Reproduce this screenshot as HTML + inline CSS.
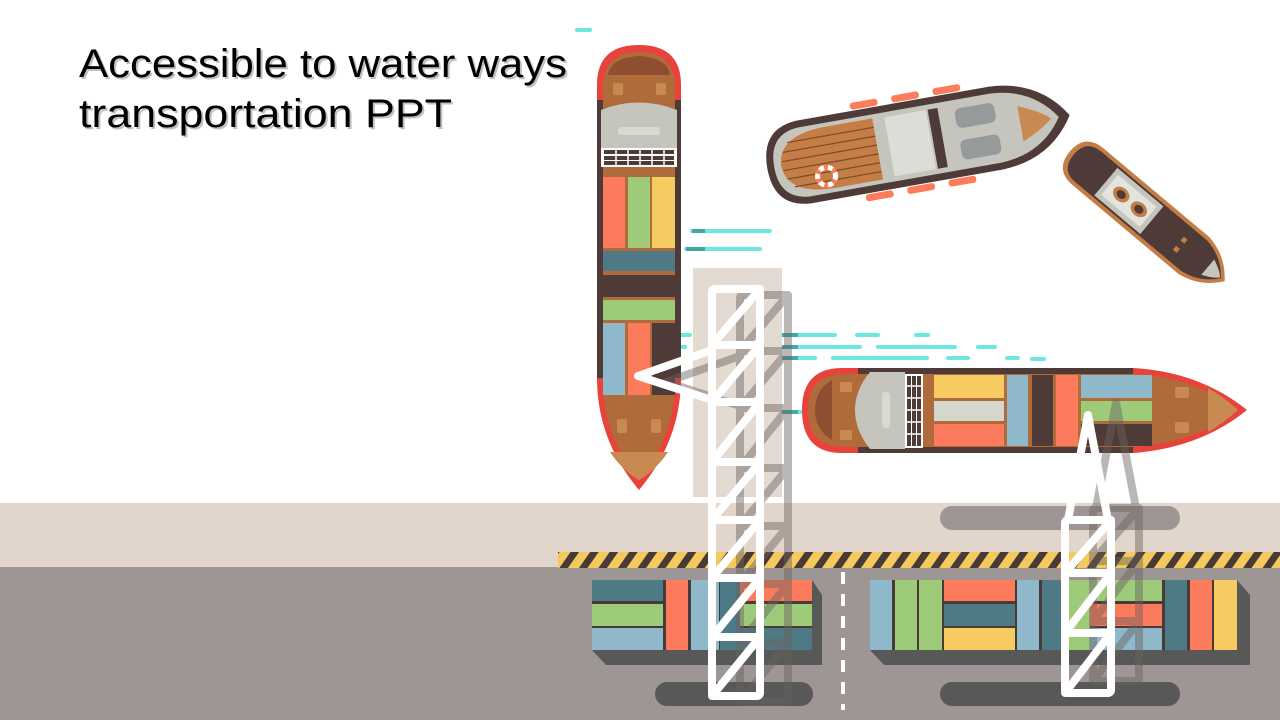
<!DOCTYPE html>
<html><head><meta charset="utf-8"><style>
html,body{margin:0;padding:0;background:#fff;}
svg{display:block;}
</style></head><body>
<svg width="1280" height="720" viewBox="0 0 1280 720" xmlns="http://www.w3.org/2000/svg">
<defs>
<pattern id="haz" width="16" height="16" patternUnits="userSpaceOnUse" patternTransform="rotate(35)">
<rect width="16" height="16" fill="#f4c95d"/><rect width="7" height="16" fill="#4a3a36"/>
</pattern>
<g id="craneL" fill="none" stroke-width="8" stroke-linejoin="round" stroke-linecap="round">
<rect x="712" y="289" width="48" height="407" rx="3"/>
<path d="M712 345H760M712 402H760M712 462H760M712 520H760M712 578H760M712 637H760"/>
<path d="M712 345L760 289M712 402L760 345M712 462L760 402M712 520L760 462M712 578L760 520M712 637L760 578M712 696L760 637"/>
<path d="M712 350L638 376L712 400"/>
</g>
<g id="craneR" fill="none" stroke-width="8" stroke-linejoin="round" stroke-linecap="round">
<rect x="1065" y="520" width="46" height="173" rx="3"/>
<path d="M1065 573H1111M1065 633H1111"/>
<path d="M1065 573L1111 520M1065 633L1111 573M1065 693L1111 633"/>
<path d="M1068 520L1088 415L1108 520"/>
</g>
</defs>

<rect x="0" y="503" width="1280" height="66" fill="#e2d6cc"/>
<rect x="0" y="567" width="1280" height="153" fill="#9e9694"/>
<rect x="558" y="552" width="722" height="16" fill="url(#haz)"/>
<path d="M843 572V710" stroke="#fff" stroke-width="4" stroke-dasharray="12 10"/>

<rect x="940" y="506" width="240" height="24" rx="12" fill="#9e9694"/>
<rect x="655" y="682" width="158" height="24" rx="12" fill="#585858"/>
<rect x="940" y="682" width="240" height="24" rx="12" fill="#585858"/>

<path d="M592 650L606 665H822V595L812 580V650Z" fill="#585858"/>
<rect x="592" y="580" width="220" height="70" fill="#4a3a36"/>
<rect x="592" y="580" width="71" height="21" fill="#4e7a86"/>
<rect x="592" y="604" width="71" height="22" fill="#9ecb7a"/>
<rect x="592" y="628" width="71" height="22" fill="#8fb9cb"/>
<rect x="666" y="580" width="22" height="70" fill="#fd7b5d"/>
<rect x="691" y="580" width="28" height="70" fill="#8fb9cb"/>
<rect x="720" y="580" width="20" height="70" fill="#4e7a86"/>
<rect x="740" y="580" width="72" height="21" fill="#fd7b5d"/>
<rect x="740" y="604" width="72" height="22" fill="#9ecb7a"/>
<rect x="740" y="628" width="72" height="22" fill="#4e7a86"/>

<path d="M870 650L884 665H1250V595L1237 580V650Z" fill="#585858"/>
<rect x="870" y="580" width="367" height="70" fill="#4a3a36"/>
<rect x="870" y="580" width="22" height="70" fill="#8fb9cb"/>
<rect x="895" y="580" width="22" height="70" fill="#9ecb7a"/>
<rect x="919" y="580" width="23" height="70" fill="#9ecb7a"/>
<rect x="944" y="580" width="71" height="21" fill="#fd7b5d"/>
<rect x="944" y="604" width="71" height="22" fill="#4e7a86"/>
<rect x="944" y="628" width="71" height="22" fill="#f6cb62"/>
<rect x="1017" y="580" width="22" height="70" fill="#8fb9cb"/>
<rect x="1042" y="580" width="23" height="70" fill="#4e7a86"/>
<rect x="1067" y="580" width="23" height="70" fill="#9ecb7a"/>
<rect x="1090" y="580" width="72" height="21" fill="#9ecb7a"/>
<rect x="1090" y="604" width="72" height="22" fill="#fd7b5d"/>
<rect x="1090" y="628" width="72" height="22" fill="#8fb9cb"/>
<rect x="1165" y="580" width="22" height="70" fill="#4e7a86"/>
<rect x="1190" y="580" width="22" height="70" fill="#fd7b5d"/>
<rect x="1214" y="580" width="23" height="70" fill="#f6cb62"/>

<g stroke-width="4" stroke-linecap="round" stroke="#6de8e0">
<path d="M577 30H590"/>
<path d="M692 231H770M686 249H760"/>
<path d="M782 335H835M857 335H878M916 335H928"/>
<path d="M782 347H860M878 347H955M978 347H995"/>
<path d="M782 358H815M833 358H927M948 358H968M1007 358H1018M1032 359H1044"/>
<path d="M782 412H852"/>
<path d="M645 335H690M673 347H685"/>
</g>
<g stroke-width="4" stroke="#3fa9a5"><path d="M692 231H705M686 249H705M782 335H798M782 347H798M782 358H798M782 412H798"/></g>

<path d="M597 85Q597 45 639 45Q681 45 681 85V378Q681 440 639 490Q597 440 597 378Z" fill="#e8433a"/>
<rect x="597" y="100" width="84" height="278" fill="#4e3b37"/>
<path d="M603 88Q603 52 639 52Q675 52 675 88V380Q675 436 639 480Q603 436 603 380Z" fill="#b06b3a"/>
<path d="M608 75Q610 58 639 56Q668 58 670 75Z" fill="#8e4f30"/>
<rect x="613" y="83" width="10" height="12" rx="2" fill="#c98a52"/><rect x="656" y="83" width="10" height="12" rx="2" fill="#c98a52"/>
<path d="M601 110Q639 95 677 110V148H601Z" fill="#c5c5bd"/>
<rect x="618" y="127" width="42" height="8" rx="3" fill="#d9d9cf"/>
<rect x="601" y="148" width="76" height="19" fill="#fff"/>
<g fill="#4e3b37"><rect x="604" y="150" width="70" height="4"/><rect x="604" y="156" width="70" height="4"/><rect x="604" y="161" width="70" height="4"/></g>
<g stroke="#fff" stroke-width="1.5"><path d="M616 150V166M628 150V166M640 150V166M652 150V166M664 150V166"/></g>
<rect x="603" y="177" width="22" height="71" fill="#fd7b5d"/>
<rect x="628" y="177" width="22" height="71" fill="#9ecb7a"/>
<rect x="652" y="177" width="23" height="71" fill="#f6cb62"/>
<rect x="603" y="251" width="72" height="20" fill="#4e7a86"/>
<rect x="603" y="275" width="72" height="22" fill="#4e3b37"/>
<rect x="603" y="300" width="72" height="20" fill="#9ecb7a"/>
<rect x="603" y="323" width="22" height="72" fill="#8fb9cb"/>
<rect x="628" y="323" width="22" height="72" fill="#fd7b5d"/>
<rect x="652" y="323" width="23" height="72" fill="#4e3b37"/>
<rect x="617" y="419" width="10" height="14" rx="2" fill="#c98a52"/><rect x="651" y="419" width="10" height="14" rx="2" fill="#c98a52"/>
<path d="M610 452H668Q656 470 639 480Q622 470 610 452Z" fill="#c98a52"/>

<rect x="693" y="268" width="89" height="229" fill="#e0d6cd" opacity="0.9"/>
<use href="#craneL" stroke="#6b625e" opacity="0.45" transform="translate(28,6)"/>
<use href="#craneL" stroke="#fff"/>

<path d="M842 368H1133Q1200 372 1247 410Q1200 448 1133 453H842Q802 453 802 410Q802 368 842 368Z" fill="#e8433a"/>
<rect x="858" y="368" width="275" height="85" fill="#4e3b37"/>
<path d="M845 374H1135Q1195 378 1238 410Q1195 442 1135 447H845Q808 447 808 410Q808 374 845 374Z" fill="#b06b3a"/>
<path d="M832 380Q815 390 815 410Q815 430 832 440Z" fill="#8e4f30"/>
<rect x="840" y="382" width="12" height="10" rx="2" fill="#c98a52"/><rect x="840" y="430" width="12" height="10" rx="2" fill="#c98a52"/>
<path d="M870 372H905V449H870Q855 430 855 410Q855 390 870 372Z" fill="#c5c5bd"/>
<rect x="882" y="392" width="8" height="36" rx="3" fill="#d9d9cf"/>
<rect x="905" y="374" width="18" height="74" fill="#fff"/>
<g fill="#4e3b37"><rect x="907" y="376" width="4" height="70"/><rect x="912" y="376" width="4" height="70"/><rect x="917" y="376" width="4" height="70"/></g>
<g stroke="#fff" stroke-width="1.5"><path d="M906 386H922M906 398H922M906 410H922M906 422H922M906 434H922"/></g>
<rect x="934" y="375" width="70" height="23" fill="#f6cb62"/>
<rect x="934" y="401" width="70" height="20" fill="#d5d6cc"/>
<rect x="934" y="424" width="70" height="22" fill="#fd7b5d"/>
<rect x="1007" y="375" width="21" height="71" fill="#8fb9cb"/>
<rect x="1032" y="375" width="21" height="71" fill="#4e3b37"/>
<rect x="1056" y="375" width="22" height="71" fill="#fd7b5d"/>
<rect x="1081" y="375" width="71" height="23" fill="#8fb9cb"/>
<rect x="1081" y="401" width="71" height="20" fill="#9ecb7a"/>
<rect x="1081" y="424" width="71" height="22" fill="#4e3b37"/>
<rect x="1175" y="387" width="14" height="11" rx="2" fill="#c98a52"/><rect x="1175" y="422" width="14" height="11" rx="2" fill="#c98a52"/>
<path d="M1208 388Q1225 398 1238 410Q1225 422 1208 432Z" fill="#c98a52"/>

<g transform="translate(917,142) rotate(-10)">
<path d="M-115 -42H80Q130 -40 155 0Q130 40 80 42H-115Q-152 40 -152 0Q-152 -40 -115 -42Z" fill="#4e3b37"/>
<path d="M-115 -35H80Q122 -33 144 0Q122 33 80 35H-115Q-145 33 -145 0Q-145 -33 -115 -35Z" fill="#c5c5bd"/>
<path d="M-90 -31H-40V31H-90Q-136 30 -138 0Q-136 -30 -90 -31Z" fill="#c37d45"/>
<g stroke="#7a4a2c" stroke-width="1.2"><path d="M-128 -22H-40M-134 -13H-40M-136 -4H-40M-136 5H-40M-134 14H-40M-128 23H-40"/></g>
<circle cx="-95" cy="18" r="9" fill="none" stroke="#fd7b5d" stroke-width="5"/>
<circle cx="-95" cy="18" r="9" fill="none" stroke="#fff" stroke-width="5" stroke-dasharray="5 4"/>
<rect x="-28" y="-30" width="42" height="60" fill="#dcddd6"/>
<rect x="16" y="-30" width="10" height="60" fill="#4e3b37"/>
<rect x="42" y="-26" width="40" height="20" rx="6" fill="#969a98"/>
<rect x="42" y="6" width="40" height="20" rx="6" fill="#969a98"/>
<path d="M105 -18Q128 -8 136 0Q128 8 105 18Z" fill="#c98a52"/>
<g fill="#fd7b5d"><rect x="-60" y="-50" width="28" height="7" rx="3"/><rect x="-18" y="-50" width="28" height="7" rx="3"/><rect x="24" y="-50" width="28" height="7" rx="3"/><rect x="-60" y="43" width="28" height="7" rx="3"/><rect x="-18" y="43" width="28" height="7" rx="3"/><rect x="24" y="43" width="28" height="7" rx="3"/></g>
</g>

<g transform="translate(1148,217) rotate(40)">
<path d="M-78 -24H60Q85 -20 100 0Q85 20 60 24H-78Q-102 24 -102 0Q-102 -24 -78 -24Z" fill="#c37d45"/>
<path d="M-78 -20H60Q82 -17 95 0Q82 17 60 20H-78Q-97 20 -97 0Q-97 -20 -78 -20Z" fill="#4e3b37"/>
<rect x="-55" y="-18" width="60" height="36" fill="#c5c5bd"/>
<rect x="-50" y="-13" width="50" height="26" fill="#e4e4de"/>
<ellipse cx="-35" cy="0" rx="9" ry="7" fill="#c37d45"/><ellipse cx="-12" cy="0" rx="9" ry="7" fill="#c37d45"/>
<ellipse cx="-35" cy="0" rx="5" ry="4" fill="#4e3b37"/><ellipse cx="-12" cy="0" rx="5" ry="4" fill="#4e3b37"/>
<rect x="40" y="-8" width="5" height="5" fill="#c37d45"/><rect x="40" y="4" width="5" height="5" fill="#c37d45"/>
<path d="M78 -10Q90 -5 94 0Q90 5 78 10Z" fill="#c5c5bd"/>
</g>

<use href="#craneR" stroke="#6b625e" opacity="0.45" transform="translate(28,-12)"/>
<use href="#craneR" stroke="#fff"/>

<g font-family="'Liberation Sans', sans-serif" font-size="40">
<text x="81" y="79" fill="#999" opacity="0.6" textLength="488" lengthAdjust="spacingAndGlyphs">Accessible to water ways</text>
<text x="81" y="129" fill="#999" opacity="0.6" textLength="373" lengthAdjust="spacingAndGlyphs">transportation PPT</text>
<text x="79" y="77" fill="#000" textLength="488" lengthAdjust="spacingAndGlyphs">Accessible to water ways</text>
<text x="79" y="127" fill="#000" textLength="373" lengthAdjust="spacingAndGlyphs">transportation PPT</text>
</g>
</svg>
</body></html>
